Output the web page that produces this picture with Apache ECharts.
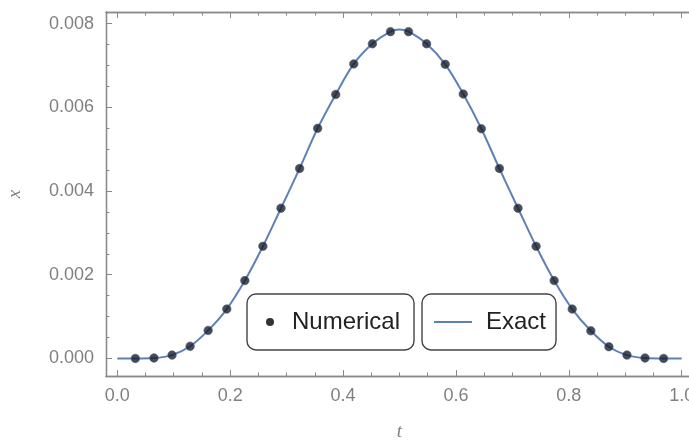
<!DOCTYPE html>
<html>
<head>
<meta charset="utf-8">
<script src="https://cdn.jsdelivr.net/npm/echarts@6/dist/echarts.min.js"></script>
<style>
  html, body { margin: 0; padding: 0; background: #fff; }
  #chart { width: 689px; height: 444px; }
</style>
</head>
<body>
<div id="chart"></div>
<script>
// numerical solution points
var numT = [0.032, 0.065, 0.097, 0.129, 0.161, 0.194, 0.226, 0.258, 0.290, 0.323,
            0.355, 0.387, 0.419, 0.452, 0.484, 0.516, 0.548, 0.581, 0.613, 0.645,
            0.677, 0.710, 0.742, 0.774, 0.806, 0.839, 0.871, 0.903, 0.935, 0.968];
var numX = [0.00000, 0.00001, 0.00008, 0.00029, 0.00067, 0.00118, 0.00186, 0.00268, 0.00359, 0.00454,
            0.00550, 0.00631, 0.00704, 0.00752, 0.00781, 0.00781, 0.00752, 0.00703, 0.00632, 0.00549,
            0.00454, 0.00359, 0.00268, 0.00186, 0.00118, 0.00066, 0.00028, 0.00008, 0.00001, 0.00000];

// exact curve samples
var exactT = [0, 0.032, 0.065, 0.097, 0.129, 0.161, 0.194, 0.226, 0.258, 0.290, 0.323,
              0.355, 0.387, 0.419, 0.452, 0.484, 0.5, 0.516, 0.548, 0.581, 0.613, 0.645,
              0.677, 0.710, 0.742, 0.774, 0.806, 0.839, 0.871, 0.903, 0.935, 0.968, 1.0];
var exactX = [0, 0.00000, 0.00001, 0.00008, 0.00029, 0.00067, 0.00118, 0.00186, 0.00268, 0.00359, 0.00454,
              0.00550, 0.00631, 0.00704, 0.00752, 0.00781, 0.00786, 0.00781, 0.00752, 0.00703, 0.00632, 0.00549,
              0.00454, 0.00359, 0.00268, 0.00186, 0.00118, 0.00066, 0.00028, 0.00008, 0.00001, 0.00000, 0];

var xMajor = [0, 0.2, 0.4, 0.6, 0.8, 1.0];
var xMinor = [0.05, 0.1, 0.15, 0.25, 0.3, 0.35, 0.45, 0.5, 0.55, 0.65, 0.7, 0.75, 0.85, 0.9, 0.95];
var yMajor = [0, 0.002, 0.004, 0.006, 0.008];
var yMinor = [0.0005, 0.001, 0.0015, 0.0025, 0.003, 0.0035, 0.0045, 0.005, 0.0055, 0.0065, 0.007, 0.0075];

var frame = '#8a8a8a';
var labelColor = '#808080';
var font = 'Liberation Sans, Arial, sans-serif';

function zip(a, b) {
    return a.map(function (v, i) { return [v, b[i]]; });
}

function xAx(pos, ticks, len, labels) {
    return {
        type: 'value', position: pos, min: -0.02, max: 1.02,
        axisLine: { show: true, onZero: false, lineStyle: { color: frame, width: 1.3 } },
        axisTick: { show: true, inside: true, length: len, customValues: ticks, lineStyle: { color: frame, width: 1 } },
        axisLabel: labels ? {
            show: true, customValues: ticks, margin: 11, color: labelColor, fontSize: 18, fontFamily: font,
            formatter: function (v) { return v.toFixed(1); }
        } : { show: false },
        splitLine: { show: false }
    };
}

function yAx(ticks, len, labels) {
    return {
        type: 'value', position: 'left', min: -0.00042, max: 0.00828,
        axisLine: { show: true, onZero: false, lineStyle: { color: frame, width: 1.3 } },
        axisTick: { show: true, inside: true, length: len, customValues: ticks, lineStyle: { color: frame, width: 1 } },
        axisLabel: labels ? {
            show: true, customValues: ticks, margin: 12, color: labelColor, fontSize: 18, fontFamily: font,
            formatter: function (v) { return v.toFixed(3); }
        } : { show: false },
        splitLine: { show: false }
    };
}

var chart = echarts.init(document.getElementById('chart'));

var xs = [xAx('bottom', xMajor, 6, true), xAx('bottom', xMinor, 3.5, false),
          xAx('top', xMajor, 6, false), xAx('top', xMinor, 3.5, false)];
xs[0].name = 't';
xs[0].nameLocation = 'middle';
xs[0].nameGap = 46;
xs[0].nameTextStyle = { color: labelColor, fontSize: 19, fontStyle: 'italic', fontFamily: 'Liberation Serif, serif' };

var ys = [yAx(yMajor, 6, true), yAx(yMinor, 3.5, false)];
ys[0].name = 'x';
ys[0].nameLocation = 'middle';
ys[0].nameRotate = 90;
ys[0].nameGap = 82;
ys[0].nameTextStyle = { color: labelColor, fontSize: 19, fontStyle: 'italic', fontFamily: 'Liberation Serif, serif' };

var legendText = { color: '#222', fontSize: 24, fontFamily: font, lineHeight: 28 };

var option = {
    animation: false,
    backgroundColor: '#fff',
    grid: { left: 106, top: 12, width: 587, height: 364, outerBoundsMode: 'none', containLabel: false },
    xAxis: xs,
    yAxis: ys,
    legend: [{
        data: [{ name: 'Numerical', icon: 'circle', itemStyle: { color: '#000', borderWidth: 0 } }],
        left: 247, top: 294,
        itemWidth: 8, itemHeight: 8,
        padding: [14, 14, 14, 19],
        borderColor: '#444', borderWidth: 1.4, borderRadius: 9,
        textStyle: Object.assign({ padding: [0, 0, 0, 13] }, legendText)
    }, {
        data: [{ name: 'Exact', icon: 'rect' }],
        left: 422, top: 294,
        itemWidth: 38, itemHeight: 2,
        padding: [14, 10, 14, 12],
        borderColor: '#444', borderWidth: 1.4, borderRadius: 9,
        textStyle: Object.assign({ padding: [0, 0, 0, 9] }, legendText)
    }],
    series: [{
        name: 'Exact',
        type: 'line',
        smooth: 0.35,
        showSymbol: false,
        symbol: 'none',
        color: '#5E81B5',
        lineStyle: { color: '#5E81B5', width: 2 },
        data: zip(exactT, exactX),
        z: 2
    }, {
        name: 'Numerical',
        type: 'scatter',
        symbol: 'circle',
        symbolSize: 8.5,
        itemStyle: { color: '#1a1e2a', borderColor: '#4a5a78', borderWidth: 0.8 },
        data: zip(numT, numX),
        z: 3
    }]
};

chart.setOption(option);
</script>
</body>
</html>
